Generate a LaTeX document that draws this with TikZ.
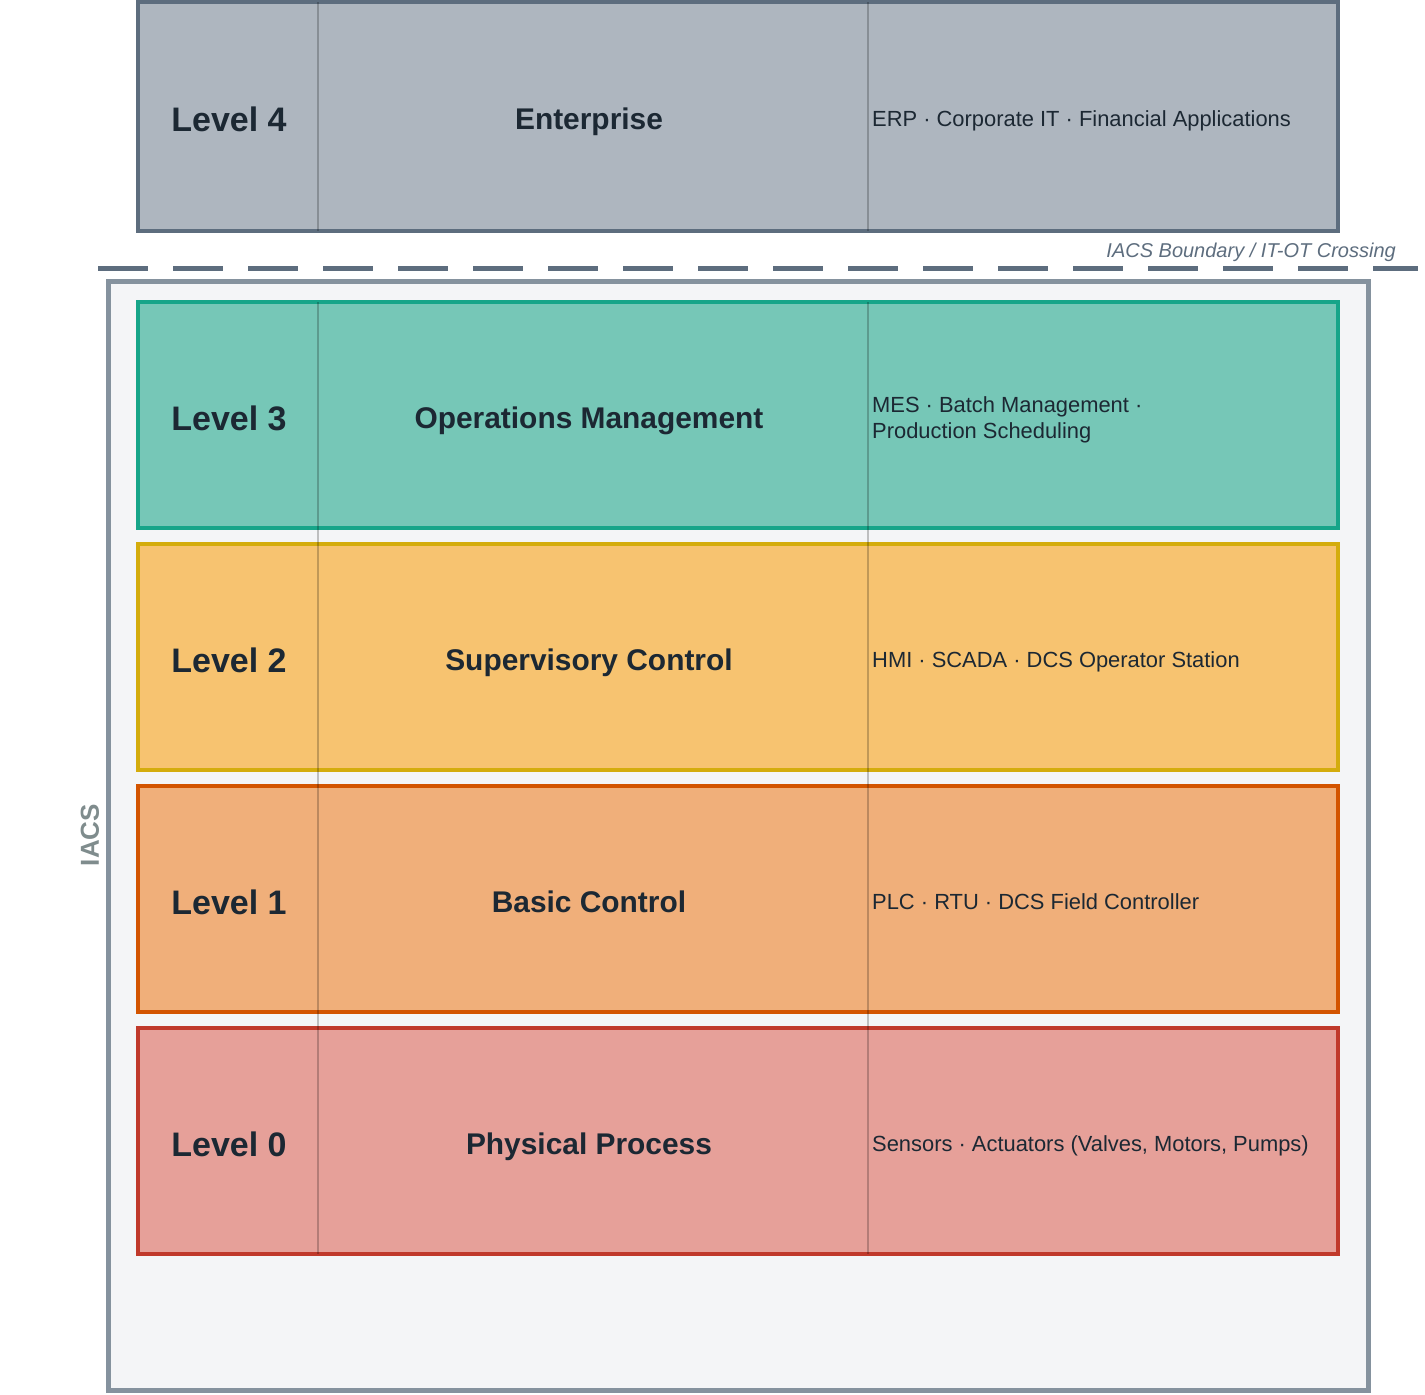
\documentclass[tikz,border=0pt]{standalone}
\usepackage{fontspec}
\setmainfont{Liberation Sans}
\definecolor{txt}{HTML}{1C2833}
\definecolor{itfill}{HTML}{AEB6BF}
\definecolor{itdraw}{HTML}{5D6D7E}
\definecolor{tlfill}{HTML}{76C7B7}
\definecolor{tldraw}{HTML}{17A589}
\definecolor{ylfill}{HTML}{F7C370}
\definecolor{yldraw}{HTML}{D4AC0D}
\definecolor{orfill}{HTML}{F0AF7A}
\definecolor{ordraw}{HTML}{D35400}
\definecolor{rdfill}{HTML}{E6A099}
\definecolor{rddraw}{HTML}{C0392B}
\definecolor{cfill}{HTML}{F4F5F7}
\definecolor{cdraw}{HTML}{85929E}
\definecolor{iacsc}{HTML}{7F8C8D}
\begin{document}
\begin{tikzpicture}[x=1pt,y=-1pt,
  rowbox/.style={rectangle, line width=4pt, minimum width=1200pt, minimum height=226pt, inner sep=0pt, outer sep=0pt},
  divider/.style={draw=black, draw opacity=0.22, line width=1.5pt},
  lvl/.style={anchor=base, inner sep=0pt, text=txt, font=\fontsize{34}{40}\selectfont\bfseries},
  ttl/.style={anchor=base, inner sep=0pt, text=txt, font=\fontsize{29.9}{36}\selectfont\bfseries},
  dsc/.style={anchor=base west, inner sep=0pt, text=txt, align=left, font=\fontsize{21.9}{26}\selectfont}]
\useasboundingbox (0,0) rectangle (1425,1395);
% IACS container
\node[rectangle, draw=cdraw, fill=cfill, line width=5pt, minimum width=1260pt, minimum height=1109pt, inner sep=0pt] (iacs) at (738,835.5) {};
\node[rotate=90, text=iacsc, font=\fontsize{26}{30}\selectfont\bfseries, inner sep=0pt] (iacslabel) at (90,835) {IACS};
% boundary
\coordinate (bl) at (98,268);
\coordinate (br) at (1418,268);
\draw[draw=itdraw, line width=5pt, dash pattern=on 50pt off 25pt] (bl) -- (br);
\node[anchor=base east, inner sep=0pt, text=itdraw, font=\fontsize{20}{24}\selectfont\itshape] (blabel) at (1396,257) {IACS Boundary / IT-OT Crossing};
% rows
\node[rowbox, draw=itdraw, fill=itfill, minimum height=229pt] (l4) at (738,116.5) {};
\node[rowbox, draw=tldraw, fill=tlfill] (l3) at (738,415) {};
\node[rowbox, draw=yldraw, fill=ylfill] (l2) at (738,657) {};
\node[rowbox, draw=ordraw, fill=orfill] (l1) at (738,899) {};
\node[rowbox, draw=rddraw, fill=rdfill] (l0) at (738,1141) {};
% dividers
\draw[divider] (318,2) -- (318,231);
\draw[divider] (868,2) -- (868,231);
\draw[divider] (318,302) -- (318,1254);
\draw[divider] (868,302) -- (868,1254);
% texts
\node[lvl] (t4a) at (229,131.5) {Level 4};
\node[ttl] (t4b) at (589,129.5) {Enterprise};
\node[dsc] (t4c) at (872,126.5) {ERP · Corporate IT · Financial Applications};
\node[lvl] (t3a) at (229,430) {Level 3};
\node[ttl] (t3b) at (589,428) {Operations Management};
\node[dsc] (t3c) at (872,438) {MES · Batch Management ·\\Production Scheduling};
\node[lvl] (t2a) at (229,672) {Level 2};
\node[ttl] (t2b) at (589,670) {Supervisory Control};
\node[dsc] (t2c) at (872,667) {HMI · SCADA · DCS Operator Station};
\node[lvl] (t1a) at (229,914) {Level 1};
\node[ttl] (t1b) at (589,912) {Basic Control};
\node[dsc] (t1c) at (872,909) {PLC · RTU · DCS Field Controller};
\node[lvl] (t0a) at (229,1156) {Level 0};
\node[ttl] (t0b) at (589,1154) {Physical Process};
\node[dsc] (t0c) at (872,1151) {Sensors · Actuators (Valves, Motors, Pumps)};
\end{tikzpicture}
\end{document}
